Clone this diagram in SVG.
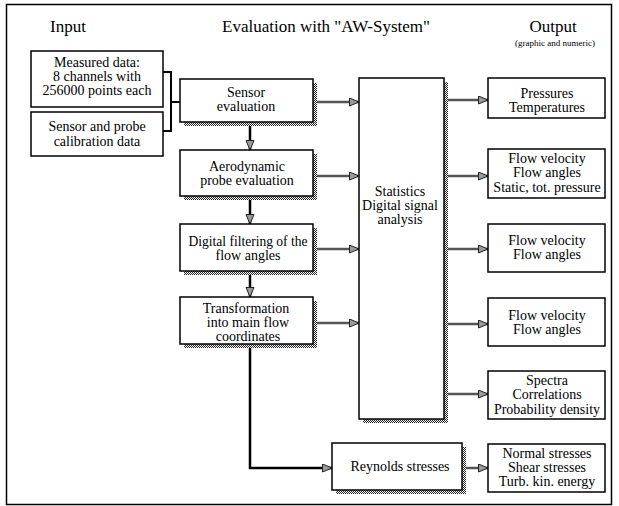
<svg xmlns="http://www.w3.org/2000/svg" width="619" height="506" viewBox="0 0 619 506">
<defs>
<pattern id="stip" width="2" height="2" patternUnits="userSpaceOnUse">
<rect width="2" height="2" fill="#fff"/>
<rect x="0" y="0" width="1" height="1" fill="#222"/>
<rect x="1" y="1" width="1" height="1" fill="#222"/>
</pattern>
<marker id="ah" markerUnits="userSpaceOnUse" markerWidth="12" markerHeight="10" refX="10" refY="4.5" orient="auto">
<path d="M0.5,0.5 L10,4.5 L0.5,8.5 Z" fill="#9a9a9a" stroke="#222" stroke-width="1"/>
</marker>
<style>
.box{fill:#fff;stroke:#000;stroke-width:1.5}
.shadow{fill:url(#stip);stroke:none}
text{font-family:"Liberation Serif","Times New Roman",serif;font-size:14px;text-anchor:middle;fill:#000}
.title{font-size:17px}
.small{font-size:9px}
.bracket{fill:none;stroke:#000;stroke-width:2}
.harrow{fill:none;stroke:#555;stroke-width:2.5;marker-end:url(#ah)}
.varrow{fill:none;stroke:#000;stroke-width:2.5;marker-end:url(#ah)}
.frame{fill:none;stroke:#000;stroke-width:1.5}
</style>
</defs>
<rect class="frame" x="6.5" y="4.5" width="605" height="500"/>
<g id="titles">
<text class="title" x="68" y="32">Input</text>
<text class="title" x="326" y="32">Evaluation with "AW-System"</text>
<text class="title" x="553" y="32">Output</text>
<text class="small" x="555" y="46">(graphic and numeric)</text>
</g>
<g id="connectors">
<path class="bracket" d="M163,72 H171 V131 H163 M171,102 H180"/>
<line class="varrow" x1="250" y1="122" x2="250" y2="150"/>
<line class="varrow" x1="250" y1="196" x2="250" y2="224"/>
<line class="varrow" x1="250" y1="271" x2="250" y2="297"/>
<path class="varrow" d="M250,344 V468 H332"/>
<line class="harrow" x1="313" y1="102" x2="359" y2="102"/>
<line class="harrow" x1="313" y1="176" x2="359" y2="176"/>
<line class="harrow" x1="313" y1="249" x2="359" y2="249"/>
<line class="harrow" x1="313" y1="323" x2="359" y2="323"/>
<line class="harrow" x1="444" y1="100" x2="488" y2="100"/>
<line class="harrow" x1="444" y1="176" x2="488" y2="176"/>
<line class="harrow" x1="444" y1="249" x2="488" y2="249"/>
<line class="harrow" x1="444" y1="324" x2="488" y2="324"/>
<line class="harrow" x1="444" y1="394" x2="488" y2="394"/>
<line class="harrow" x1="462" y1="468" x2="488" y2="468"/>
</g>
<g id="in-measured">
<rect class="box" x="31" y="51" width="132" height="56"/>
<text x="97" y="67">Measured data:</text>
<text x="97" y="81">8 channels with</text>
<text x="97" y="95">256000 points each</text>
</g>
<g id="in-calibration">
<rect class="box" x="31" y="112" width="132" height="44"/>
<text x="97" y="131">Sensor and probe</text>
<text x="97" y="146">calibration data</text>
</g>
<g id="sensor-eval">
<rect class="shadow" x="184" y="83" width="133" height="43"/>
<rect class="box" x="180" y="79" width="133" height="43"/>
<text x="246" y="97">Sensor</text>
<text x="246" y="111">evaluation</text>
</g>
<g id="aero-eval">
<rect class="shadow" x="184" y="154" width="133" height="46"/>
<rect class="box" x="180" y="150" width="133" height="46"/>
<text x="247" y="171">Aerodynamic</text>
<text x="247" y="185">probe evaluation</text>
</g>
<g id="digital-filter">
<rect class="shadow" x="184" y="228" width="133" height="47"/>
<rect class="box" x="180" y="224" width="133" height="47"/>
<text x="248" y="246" textLength="119" lengthAdjust="spacingAndGlyphs">Digital filtering of the</text>
<text x="248" y="260">flow angles</text>
</g>
<g id="transformation">
<rect class="shadow" x="184" y="301" width="133" height="47"/>
<rect class="box" x="180" y="297" width="133" height="47"/>
<text x="246" y="313">Transformation</text>
<text x="248" y="327">into main flow</text>
<text x="248" y="341">coordinates</text>
</g>
<g id="statistics">
<rect class="shadow" x="363" y="82" width="85" height="341"/>
<rect class="box" x="359" y="78" width="85" height="341"/>
<text x="400" y="196">Statistics</text>
<text x="400" y="210">Digital signal</text>
<text x="400" y="224">analysis</text>
</g>
<g id="reynolds">
<rect class="shadow" x="336" y="447" width="130" height="47"/>
<rect class="box" x="332" y="443" width="130" height="47"/>
<text x="400" y="471">Reynolds stresses</text>
</g>
<g id="out-pressures">
<rect class="box" x="488" y="78" width="117" height="40"/>
<text x="547" y="98">Pressures</text>
<text x="547" y="112">Temperatures</text>
</g>
<g id="out-flow1">
<rect class="box" x="488" y="149" width="117" height="49"/>
<text x="547" y="163">Flow velocity</text>
<text x="547" y="177">Flow angles</text>
<text x="547" y="192">Static, tot. pressure</text>
</g>
<g id="out-flow2">
<rect class="box" x="488" y="224" width="117" height="48"/>
<text x="547" y="245">Flow velocity</text>
<text x="547" y="259">Flow angles</text>
</g>
<g id="out-flow3">
<rect class="box" x="488" y="298" width="117" height="48"/>
<text x="547" y="320">Flow velocity</text>
<text x="547" y="334">Flow angles</text>
</g>
<g id="out-spectra">
<rect class="box" x="488" y="371" width="117" height="48"/>
<text x="547" y="385">Spectra</text>
<text x="547" y="399">Correlations</text>
<text x="547" y="414">Probability density</text>
</g>
<g id="out-stresses">
<rect class="box" x="488" y="444" width="117" height="48"/>
<text x="547" y="458">Normal stresses</text>
<text x="547" y="472">Shear stresses</text>
<text x="547" y="486">Turb. kin. energy</text>
</g>
</svg>
